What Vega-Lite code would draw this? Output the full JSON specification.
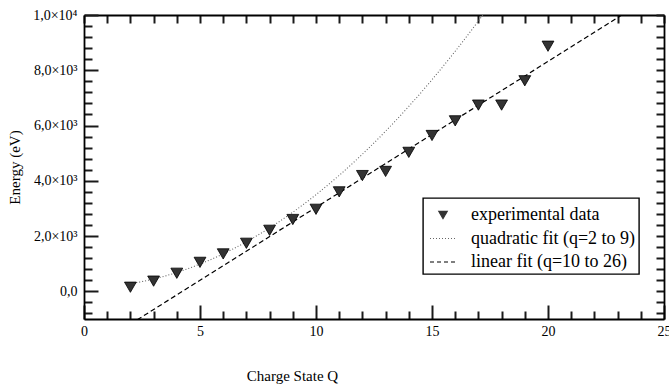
{
  "$schema": "https://vega.github.io/schema/vega-lite/v6.json",
  "width": 580,
  "height": 304,
  "autosize": {"type": "none"},
  "padding": {"left": 84, "top": 15, "right": 5, "bottom": 66},
  "background": "white",
  "config": {
    "font": "Liberation Serif",
    "view": {"stroke": null},
    "axis": {
      "domainColor": "black",
      "domainWidth": 1.8,
      "grid": false,
      "labelFont": "Liberation Serif",
      "labelFontSize": 14,
      "labelColor": "black",
      "titleFont": "Liberation Serif",
      "titleFontSize": 15,
      "titleFontWeight": "normal",
      "titleColor": "black",
      "labelOverlap": false,
      "labelFlush": false
    }
  },
  "datasets": {
    "measured": [
      {"q": 2, "E": 150, "series": "experimental data"},
      {"q": 3, "E": 370, "series": "experimental data"},
      {"q": 4, "E": 655, "series": "experimental data"},
      {"q": 5, "E": 1050, "series": "experimental data"},
      {"q": 6, "E": 1355, "series": "experimental data"},
      {"q": 7, "E": 1740, "series": "experimental data"},
      {"q": 8, "E": 2210, "series": "experimental data"},
      {"q": 9, "E": 2600, "series": "experimental data"},
      {"q": 10, "E": 2970, "series": "experimental data"},
      {"q": 11, "E": 3600, "series": "experimental data"},
      {"q": 12, "E": 4190, "series": "experimental data"},
      {"q": 13, "E": 4340, "series": "experimental data"},
      {"q": 14, "E": 5030, "series": "experimental data"},
      {"q": 15, "E": 5640, "series": "experimental data"},
      {"q": 16, "E": 6170, "series": "experimental data"},
      {"q": 17, "E": 6740, "series": "experimental data"},
      {"q": 18, "E": 6740, "series": "experimental data"},
      {"q": 19, "E": 7620, "series": "experimental data"},
      {"q": 20, "E": 8870, "series": "experimental data"}
    ],
    "quadratic": [
      {"q": 2, "E": 274, "series": "quadratic fit (q=2 to 9)"},
      {"q": 3, "E": 446, "series": "quadratic fit (q=2 to 9)"},
      {"q": 4, "E": 684, "series": "quadratic fit (q=2 to 9)"},
      {"q": 5, "E": 988, "series": "quadratic fit (q=2 to 9)"},
      {"q": 6, "E": 1358, "series": "quadratic fit (q=2 to 9)"},
      {"q": 7, "E": 1794, "series": "quadratic fit (q=2 to 9)"},
      {"q": 8, "E": 2296, "series": "quadratic fit (q=2 to 9)"},
      {"q": 9, "E": 2864, "series": "quadratic fit (q=2 to 9)"},
      {"q": 10, "E": 3498, "series": "quadratic fit (q=2 to 9)"},
      {"q": 11, "E": 4198, "series": "quadratic fit (q=2 to 9)"},
      {"q": 12, "E": 4964, "series": "quadratic fit (q=2 to 9)"},
      {"q": 13, "E": 5796, "series": "quadratic fit (q=2 to 9)"},
      {"q": 14, "E": 6694, "series": "quadratic fit (q=2 to 9)"},
      {"q": 15, "E": 7658, "series": "quadratic fit (q=2 to 9)"},
      {"q": 16, "E": 8688, "series": "quadratic fit (q=2 to 9)"},
      {"q": 17, "E": 9784, "series": "quadratic fit (q=2 to 9)"},
      {"q": 18, "E": 10946, "series": "quadratic fit (q=2 to 9)"}
    ],
    "linear": [
      {"q": 2, "E": -1184, "series": "linear fit (q=10 to 26)"},
      {"q": 24, "E": 10432, "series": "linear fit (q=10 to 26)"}
    ]
  },
  "resolve": {"axis": {"x": "independent", "y": "independent"}},
  "layer": [
    {
      "data": {"name": "linear"},
      "mark": {"type": "line", "clip": true, "strokeDash": [5, 3], "strokeWidth": 1.2},
      "encoding": {
        "x": {
          "field": "q", "type": "quantitative",
          "scale": {"domain": [0, 25], "nice": false, "zero": false},
          "axis": {
            "orient": "top",
            "values": [0,1,2,3,4,5,6,7,8,9,10,11,12,13,14,15,16,17,18,19,20,21,22,23,24,25],
            "labels": false,
            "title": null,
            "ticks": true,
            "tickColor": "#1a1a1a",
            "tickWidth": 2,
            "tickSize": -8
          }
        },
        "y": {
          "field": "E", "type": "quantitative",
          "scale": {"domain": [-1000, 10000], "nice": false, "zero": false},
          "axis": {
            "orient": "right",
            "values": [-800,-400,0,400,800,1200,1600,2000,2400,2800,3200,3600,4000,4400,4800,5200,5600,6000,6400,6800,7200,7600,8000,8400,8800,9200,9600,10000],
            "labels": false,
            "title": null,
            "ticks": true,
            "tickColor": "#1a1a1a",
            "tickWidth": 2,
            "tickSize": -8
          }
        },
        "color": {
          "field": "series", "type": "nominal",
          "scale": {
            "domain": ["experimental data", "quadratic fit (q=2 to 9)", "linear fit (q=10 to 26)"],
            "range": ["#333333", "#666666", "#000000"]
          },
          "legend": {
            "title": null,
            "orient": "none",
            "legendX": 339,
            "legendY": 183,
            "padding": 3,
            "strokeColor": "black",
            "fillColor": "white",
            "labelFont": "Liberation Serif",
            "labelFontSize": 18,
            "labelColor": "black",
            "labelLimit": 400,
            "labelOffset": 14,
            "symbolSize": 324,
            "symbolOffset": 3,
            "rowPadding": 0.5,
            "encode": {
              "legend": {"update": {"strokeWidth": {"value": 1.4}}},
              "symbols": {
                "update": {
                  "shape": {"signal": "datum.value === 'experimental data' ? 'triangle-down' : 'stroke'"},
                  "size": {"signal": "datum.value === 'experimental data' ? 70 : 676"},
                  "strokeDash": {"signal": "datum.value === 'linear fit (q=10 to 26)' ? [4, 3] : datum.value === 'quadratic fit (q=2 to 9)' ? [1, 2] : [1, 0]"},
                  "fill": {"signal": "datum.value === 'experimental data' ? '#333333' : 'transparent'"},
                  "stroke": {"signal": "datum.value === 'quadratic fit (q=2 to 9)' ? '#666666' : 'black'"},
                  "strokeWidth": {"value": 1.2},
                  "opacity": {"value": 1}
                }
              }
            }
          }
        }
      }
    },
    {
      "data": {"name": "quadratic"},
      "mark": {"type": "line", "clip": true, "strokeDash": [1, 2], "strokeWidth": 1.1, "interpolate": "monotone"},
      "encoding": {
        "x": {
          "field": "q", "type": "quantitative",
          "axis": {
            "orient": "bottom",
            "values": [1,2,3,4,6,7,8,9,11,12,13,14,16,17,18,19,21,22,23,24],
            "labels": false,
            "title": null,
            "domain": false,
            "ticks": true,
            "tickColor": "#1a1a1a",
            "tickWidth": 2,
            "tickSize": -8
          }
        },
        "y": {
          "field": "E", "type": "quantitative",
          "axis": {
            "orient": "left",
            "values": [-800,-400,400,800,1200,1600,2400,2800,3200,3600,4400,4800,5200,5600,6400,6800,7200,7600,8400,8800,9200,9600],
            "labels": false,
            "title": null,
            "domain": false,
            "ticks": true,
            "tickColor": "#1a1a1a",
            "tickWidth": 2,
            "tickSize": -8
          }
        },
        "color": {"field": "series", "type": "nominal"}
      }
    },
    {
      "data": {"name": "measured"},
      "mark": {"type": "point", "shape": "triangle-down", "filled": true, "size": 140, "stroke": "black", "strokeWidth": 0.8, "opacity": 1},
      "encoding": {
        "x": {
          "field": "q", "type": "quantitative",
          "axis": {
            "orient": "bottom",
            "values": [0,5,10,15,20,25],
            "format": "d",
            "ticks": true,
            "tickColor": "#1a1a1a",
            "tickWidth": 2,
            "tickSize": -14,
            "labelPadding": 19,
            "title": "Charge State Q",
            "titleX": 208,
            "titleY": 56,
            "titleAlign": "center",
            "titleBaseline": "middle"
          }
        },
        "y": {
          "field": "E", "type": "quantitative",
          "axis": {
            "orient": "left",
            "values": [0,2000,4000,6000,8000,10000],
            "labelExpr": "datum.value === 0 ? '0,0' : datum.value === 10000 ? '1,0×10⁴' : format(datum.value / 1000, 'd') + ',0×10³'",
            "ticks": true,
            "tickColor": "#1a1a1a",
            "tickWidth": 2,
            "tickSize": -14,
            "labelPadding": 21,
            "title": "Energy (eV)",
            "titleX": -70,
            "titleY": 152,
            "titleAngle": -90,
            "titleAlign": "center",
            "titleBaseline": "middle"
          }
        },
        "color": {"field": "series", "type": "nominal"}
      }
    }
  ]
}
